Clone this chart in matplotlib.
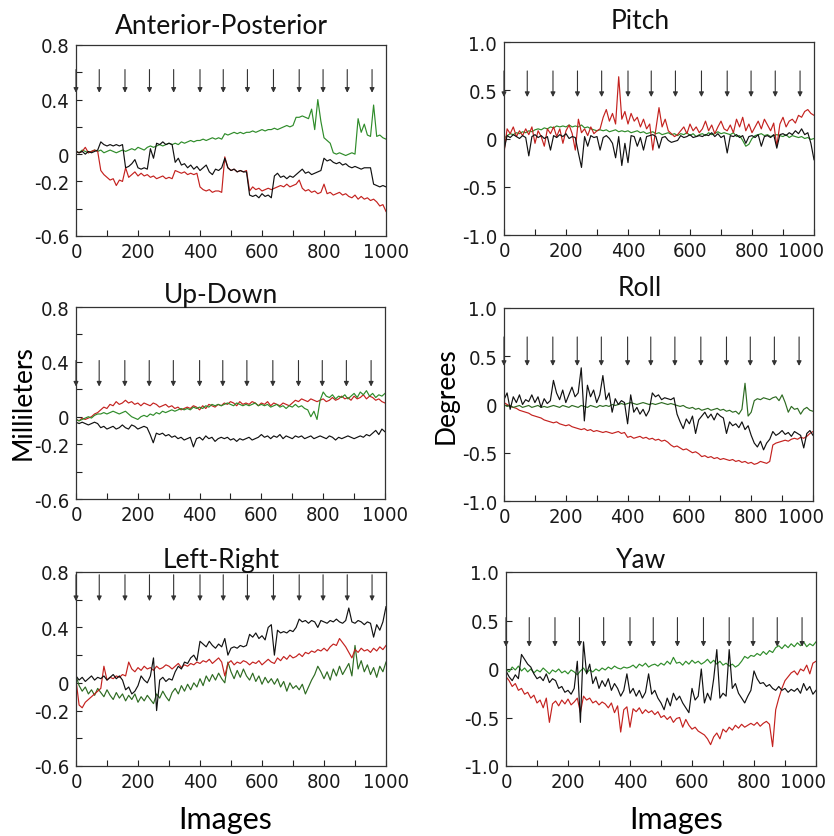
import numpy as np
import matplotlib
matplotlib.use("Agg")
import matplotlib.pyplot as plt
import matplotlib.transforms as mtransforms
from matplotlib import font_manager

# ---------------- data (x = image index, every 10 images) ----------------
images = np.arange(0, 1001, 10)
arrow_x = [0, 75, 158, 237, 315, 400, 475, 553, 637, 720, 797, 875, 955]

ap_g = [0.02, 0.01, 0.03, 0.02, 0.01, 0.02, 0.03, 0.02,
        0.03, 0.01, 0.02, 0.03, 0.02, 0.01, 0.02, 0.03,
        0.02, 0.03, 0.04, 0.03, 0.05, 0.04, 0.03, 0.05,
        0.06, 0.05, 0.06, 0.07, 0.06, 0.07, 0.08, 0.07,
        0.08, 0.07, 0.09, 0.08, 0.09, 0.10, 0.09, 0.10,
        0.10, 0.11, 0.10, 0.11, 0.12, 0.11, 0.12, 0.11,
        0.15, 0.14, 0.15, 0.16, 0.15, 0.16, 0.15, 0.16,
        0.16, 0.17, 0.16, 0.17, 0.18, 0.17, 0.18, 0.18,
        0.19, 0.18, 0.19, 0.20, 0.21, 0.20, 0.21, 0.27,
        0.27, 0.28, 0.27, 0.26, 0.33, 0.18, 0.40, 0.24,
        0.12, 0.10, 0.08, 0.01, 0.00, 0.01, 0.00, -0.01,
        0.00, 0.01, 0.00, 0.26, 0.16, 0.22, 0.14, 0.13,
        0.36, 0.13, 0.14, 0.12, 0.11]
ap_k = [0.02, 0.01, 0.02, 0.00, 0.02, 0.01, 0.02, 0.03,
        0.09, 0.07, 0.06, 0.07, 0.06, 0.07, 0.06, 0.07,
        -0.10, -0.09, -0.07, -0.04, -0.10, -0.11, -0.10, -0.11,
        0.04, -0.03, 0.08, 0.07, 0.09, 0.07, 0.08, 0.07,
        -0.06, -0.03, -0.08, -0.07, -0.10, -0.08, -0.11, -0.09,
        -0.12, -0.10, -0.08, -0.13, -0.15, -0.11, -0.12, -0.10,
        -0.03, -0.10, -0.12, -0.11, -0.13, -0.12, -0.13, -0.13,
        -0.30, -0.31, -0.30, -0.32, -0.29, -0.31, -0.30, -0.32,
        -0.16, -0.14, -0.17, -0.16, -0.18, -0.16, -0.17, -0.15,
        -0.13, -0.11, -0.14, -0.13, -0.15, -0.14, -0.13, -0.12,
        -0.03, -0.05, -0.04, -0.06, -0.07, -0.06, -0.08, -0.07,
        -0.09, -0.10, -0.09, -0.10, -0.11, -0.10, -0.10, -0.10,
        -0.22, -0.23, -0.24, -0.23, -0.24]
ap_r = [0.02, 0.01, 0.02, 0.05, 0.01, 0.02, 0.03, 0.02,
        -0.12, -0.15, -0.17, -0.19, -0.18, -0.23, -0.19, -0.20,
        -0.10, -0.17, -0.15, -0.13, -0.16, -0.14, -0.16, -0.15,
        -0.17, -0.16, -0.18, -0.17, -0.16, -0.18, -0.17, -0.18,
        -0.12, -0.13, -0.14, -0.13, -0.15, -0.14, -0.15, -0.14,
        -0.24, -0.26, -0.27, -0.26, -0.28, -0.27, -0.27, -0.28,
        -0.02, -0.10, -0.12, -0.11, -0.13, -0.12, -0.13, -0.12,
        -0.27, -0.24, -0.26, -0.25, -0.27, -0.26, -0.25, -0.26,
        -0.25, -0.24, -0.23, -0.24, -0.22, -0.24, -0.23, -0.22,
        -0.19, -0.25, -0.27, -0.26, -0.28, -0.27, -0.29, -0.28,
        -0.22, -0.29, -0.28, -0.30, -0.29, -0.28, -0.30, -0.29,
        -0.31, -0.32, -0.30, -0.33, -0.31, -0.33, -0.32, -0.34,
        -0.33, -0.35, -0.38, -0.37, -0.42]

pitch_k = [-0.12, 0.03, 0.01, 0.04, 0.02, 0.00, 0.03, 0.01,
           -0.18, 0.02, 0.04, 0.01, 0.03, 0.00, 0.02, -0.12,
           0.03, 0.01, 0.04, 0.02, 0.05, 0.00, 0.02, 0.01,
           -0.15, -0.30, 0.02, -0.08, 0.03, 0.01, 0.02, -0.12,
           0.01, 0.03, 0.00, -0.05, -0.20, 0.02, -0.28, -0.05,
           -0.25, 0.03, 0.02, -0.08, 0.01, -0.12, 0.02, 0.03,
           0.04, 0.02, -0.10, 0.01, 0.02, -0.02, -0.04, -0.03,
           -0.02, 0.03, 0.01, 0.02, 0.04, 0.01, 0.02, 0.03,
           0.02, 0.04, 0.03, 0.06, 0.02, 0.05, 0.01, 0.03,
           -0.15, 0.03, 0.02, 0.04, 0.01, 0.03, -0.05, 0.02,
           0.03, 0.01, 0.04, -0.08, 0.02, 0.03, 0.01, 0.04,
           -0.10, 0.04, 0.05, 0.03, 0.06, 0.04, 0.08, 0.05,
           0.10, 0.04, 0.06, -0.05, -0.22]
pitch_r = [-0.15, 0.10, 0.05, 0.12, 0.02, 0.08, 0.03, 0.10,
           0.04, 0.12, -0.05, 0.08, 0.02, -0.08, 0.10, 0.05,
           0.12, 0.02, 0.10, -0.05, 0.08, 0.14, 0.05, -0.12,
           0.20, 0.06, 0.10, 0.03, 0.12, 0.05, 0.08, 0.10,
           0.22, 0.30, 0.18, 0.26, 0.15, 0.64, 0.20, 0.28,
           0.15, 0.26, 0.18, 0.22, 0.12, 0.20, 0.10, 0.15,
           -0.12, 0.10, 0.32, 0.12, 0.20, 0.08, 0.05, 0.02,
           0.04, 0.08, 0.12, 0.05, 0.15, 0.08, 0.12, 0.06,
           0.10, 0.18, 0.08, 0.14, 0.05, 0.12, 0.18, 0.10,
           0.08, 0.14, 0.06, 0.20, 0.12, 0.22, 0.08, 0.15,
           0.06, 0.12, 0.18, 0.10, 0.20, 0.14, 0.08, 0.16,
           -0.08, 0.15, 0.22, 0.12, 0.18, 0.20, 0.16, 0.24,
           0.22, 0.28, 0.30, 0.26, 0.24]
pitch_g = [0.00, 0.03, 0.05, 0.04, 0.06, 0.05, 0.07, 0.06,
           0.08, 0.07, 0.09, 0.10, 0.09, 0.11, 0.10, 0.12,
           0.11, 0.13, 0.12, 0.13, 0.12, 0.14, 0.12, 0.13,
           0.12, 0.14, 0.11, 0.12, 0.10, 0.09, 0.08, 0.09,
           0.08, 0.09, 0.07, 0.08, 0.09, 0.07, 0.08, 0.07,
           0.08, 0.06, 0.07, 0.08, 0.06, 0.07, 0.05, 0.06,
           0.07, 0.05, 0.06, 0.04, 0.05, 0.06, 0.04, 0.05,
           0.03, 0.05, 0.04, 0.06, 0.03, 0.05, 0.02, 0.04,
           0.05, 0.03, 0.06, 0.04, 0.05, 0.07, 0.05, 0.06,
           0.05, 0.04, 0.06, 0.02, 0.03, -0.02, -0.08, -0.06,
           0.00, 0.03, 0.04, 0.05, 0.03, 0.04, 0.02, 0.03,
           0.04, 0.03, 0.02, 0.04, 0.01, 0.03, 0.02, 0.01,
           0.02, 0.00, 0.01, -0.01, 0.00]

ud_r = [-0.02, -0.03, -0.01, -0.02, -0.01, 0.00, 0.02, 0.03,
        0.05, 0.07, 0.06, 0.09, 0.08, 0.11, 0.09, 0.10,
        0.12, 0.10, 0.11, 0.09, 0.10, 0.08, 0.10, 0.09,
        0.08, 0.10, 0.09, 0.07, 0.08, 0.09, 0.07, 0.08,
        0.06, 0.07, 0.05, 0.06, 0.07, 0.06, 0.08, 0.07,
        0.05, 0.08, 0.06, 0.09, 0.08, 0.07, 0.09, 0.08,
        0.10, 0.09, 0.11, 0.10, 0.08, 0.11, 0.09, 0.10,
        0.09, 0.11, 0.10, 0.08, 0.10, 0.09, 0.11, 0.08,
        0.10, 0.09, 0.08, 0.10, 0.09, 0.08, 0.10, 0.12,
        0.11, 0.13, 0.12, 0.11, 0.13, 0.12, 0.11, 0.12,
        0.13, 0.11, 0.12, 0.14, 0.12, 0.13, 0.15, 0.13,
        0.14, 0.12, 0.15, 0.13, 0.14, 0.16, 0.13, 0.15,
        0.14, 0.12, 0.13, 0.11, 0.10]
ud_g = [-0.02, -0.03, -0.02, -0.01, 0.00, -0.01, 0.01, 0.02,
        0.02, 0.03, 0.02, 0.03, 0.04, 0.03, 0.02, 0.03,
        0.04, 0.02, 0.00, -0.01, -0.02, 0.00, 0.01, 0.00,
        0.02, 0.01, 0.03, 0.02, 0.04, 0.03, 0.04, 0.05,
        0.04, 0.05, 0.06, 0.05, 0.06, 0.05, 0.07, 0.06,
        0.07, 0.06, 0.08, 0.07, 0.09, 0.08, 0.09, 0.08,
        0.09, 0.10, 0.09, 0.08, 0.10, 0.09, 0.08, 0.09,
        0.08, 0.09, 0.10, 0.08, 0.09, 0.08, 0.09, 0.07,
        0.08, 0.09, 0.07, 0.08, 0.06, 0.08, 0.07, 0.09,
        0.07, 0.08, 0.06, 0.05, 0.00, 0.04, -0.02, 0.12,
        0.18, 0.15, 0.14, 0.16, 0.13, 0.15, 0.14, 0.16,
        0.13, 0.15, 0.17, 0.14, 0.18, 0.16, 0.19, 0.15,
        0.17, 0.14, 0.16, 0.15, 0.17]
ud_k = [-0.04, -0.05, -0.04, -0.05, -0.06, -0.05, -0.04, -0.05,
        -0.08, -0.07, -0.09, -0.08, -0.07, -0.09, -0.08, -0.06,
        -0.08, -0.09, -0.06, -0.07, -0.09, -0.08, -0.07, -0.08,
        -0.13, -0.19, -0.12, -0.13, -0.12, -0.14, -0.13, -0.15,
        -0.14, -0.16, -0.15, -0.17, -0.16, -0.15, -0.22, -0.16,
        -0.15, -0.17, -0.14, -0.16, -0.15, -0.18, -0.16, -0.15,
        -0.16, -0.15, -0.17, -0.16, -0.18, -0.16, -0.17, -0.16,
        -0.15, -0.17, -0.16, -0.15, -0.13, -0.15, -0.14, -0.16,
        -0.14, -0.15, -0.13, -0.16, -0.14, -0.15, -0.16, -0.14,
        -0.15, -0.14, -0.16, -0.15, -0.14, -0.16, -0.15, -0.14,
        -0.15, -0.16, -0.14, -0.15, -0.17, -0.15, -0.16, -0.15,
        -0.14, -0.15, -0.16, -0.15, -0.14, -0.15, -0.13, -0.14,
        -0.12, -0.10, -0.13, -0.09, -0.11]

roll_r = [0.02, 0.00, -0.02, -0.03, -0.04, -0.06, -0.07, -0.08,
          -0.09, -0.11, -0.12, -0.13, -0.14, -0.16, -0.17, -0.18,
          -0.19, -0.18, -0.20, -0.21, -0.22, -0.21, -0.23, -0.24,
          -0.25, -0.26, -0.25, -0.27, -0.26, -0.28, -0.27, -0.28,
          -0.29, -0.28, -0.29, -0.30, -0.29, -0.28, -0.30, -0.29,
          -0.34, -0.33, -0.35, -0.34, -0.33, -0.35, -0.34, -0.36,
          -0.35, -0.37, -0.36, -0.38, -0.37, -0.39, -0.42, -0.44,
          -0.43, -0.45, -0.47, -0.46, -0.48, -0.50, -0.49, -0.51,
          -0.54, -0.53, -0.55, -0.54, -0.56, -0.55, -0.57, -0.56,
          -0.57, -0.58, -0.57, -0.59, -0.58, -0.60, -0.59, -0.61,
          -0.60, -0.62, -0.61, -0.59, -0.60, -0.61, -0.59, -0.42,
          -0.40, -0.39, -0.38, -0.37, -0.38, -0.36, -0.35, -0.36,
          -0.34, -0.35, -0.33, -0.30, -0.28]
roll_k = [0.05, 0.12, -0.05, 0.08, 0.02, 0.10, 0.00, 0.05,
          0.03, 0.10, 0.02, 0.08, -0.03, 0.06, 0.01, 0.04,
          0.25, 0.12, 0.05, 0.15, 0.02, 0.10, 0.18, 0.08,
          0.12, 0.38, -0.17, 0.20, 0.08, 0.15, 0.02, 0.10,
          0.30, 0.05, 0.12, -0.08, 0.06, 0.00, 0.04, 0.02,
          -0.20, 0.10, -0.08, -0.03, -0.10, -0.05, -0.12, -0.06,
          0.12, 0.08, 0.10, 0.05, 0.07, 0.06, 0.05, 0.07,
          -0.10, -0.18, -0.25, -0.15, -0.20, -0.12, -0.30, -0.16,
          -0.12, -0.08, -0.14, -0.10, -0.16, -0.09, -0.12, -0.14,
          -0.30, -0.18, -0.22, -0.20, -0.24, -0.18, -0.26, -0.22,
          -0.32, -0.40, -0.44, -0.38, -0.47, -0.40, -0.36, -0.28,
          -0.32, -0.30, -0.27, -0.31, -0.29, -0.33, -0.28, -0.30,
          -0.32, -0.45, -0.30, -0.27, -0.32]
roll_g = [0.00, -0.02, -0.01, -0.03, -0.02, -0.01, -0.03, -0.02,
          -0.01, -0.03, -0.02, -0.01, -0.03, -0.02, -0.03, -0.02,
          -0.01, -0.02, -0.03, -0.01, -0.02, -0.03, -0.01, -0.02,
          -0.03, -0.01, -0.02, -0.03, -0.01, -0.02, -0.03, -0.01,
          -0.02, -0.01, -0.02, 0.00, -0.01, 0.00, 0.01, 0.00,
          0.01, 0.02, 0.01, 0.00, 0.01, 0.02, 0.01, 0.00,
          0.01, 0.00, 0.01, 0.02, 0.01, 0.00, 0.01, 0.00,
          -0.01, -0.02, -0.01, -0.03, -0.04, -0.03, -0.05, -0.04,
          -0.06, -0.05, -0.04, -0.06, -0.05, -0.04, -0.06, -0.05,
          -0.07, -0.06, -0.08, -0.07, -0.10, -0.05, 0.22, -0.12,
          -0.08, 0.04, 0.06, 0.05, 0.07, 0.06, 0.05, 0.07,
          0.08, 0.04, 0.10, 0.02, -0.08, -0.02, -0.05, -0.04,
          -0.10, -0.05, -0.03, -0.06, -0.07]

lr_k = [0.05, 0.02, 0.04, 0.01, 0.03, 0.05, 0.02, 0.04,
        0.03, 0.05, 0.02, 0.04, 0.06, 0.03, 0.05, 0.02,
        -0.05, -0.03, -0.08, -0.06, -0.02, 0.05, 0.02, 0.00,
        0.05, 0.18, -0.20, 0.02, 0.04, 0.01, 0.03, 0.02,
        0.08, 0.12, 0.10, 0.15, 0.14, 0.18, 0.20, 0.16,
        0.30, 0.28, 0.26, 0.30, 0.27, 0.25, 0.28, 0.26,
        0.32, 0.20, 0.25, 0.26, 0.25, 0.27, 0.26, 0.27,
        0.35, 0.33, 0.36, 0.32, 0.34, 0.31, 0.40, 0.42,
        0.20, 0.38, 0.36, 0.37, 0.36, 0.38, 0.37, 0.40,
        0.46, 0.44, 0.45, 0.43, 0.45, 0.44, 0.40, 0.45,
        0.44, 0.43, 0.45, 0.44, 0.46, 0.44, 0.43, 0.45,
        0.54, 0.44, 0.43, 0.45, 0.44, 0.42, 0.44, 0.43,
        0.33, 0.42, 0.38, 0.44, 0.55]
lr_r = [0.02, -0.16, -0.18, -0.14, -0.12, -0.10, -0.08, -0.06,
        -0.04, 0.12, 0.02, 0.04, 0.03, 0.05, 0.04, 0.06,
        0.05, 0.15, 0.10, 0.08, 0.11, 0.09, 0.12, 0.10,
        0.11, 0.09, 0.12, 0.10, 0.11, 0.13, 0.12, 0.10,
        0.12, 0.14, 0.11, 0.13, 0.12, 0.14, 0.13, 0.15,
        0.14, 0.16, 0.15, 0.17, 0.14, 0.16, 0.18, 0.15,
        0.05, 0.14, 0.16, 0.13, 0.15, 0.14, 0.16, 0.15,
        0.13, 0.15, 0.14, 0.16, 0.13, 0.15, 0.17, 0.15,
        0.14, 0.18, 0.16, 0.19, 0.17, 0.20, 0.18, 0.19,
        0.21, 0.19, 0.22, 0.21, 0.23, 0.22, 0.24, 0.23,
        0.25, 0.23, 0.26, 0.28, 0.27, 0.32, 0.29, 0.26,
        0.22, 0.18, 0.24, 0.22, 0.25, 0.23, 0.24, 0.22,
        0.25, 0.23, 0.26, 0.24, 0.27]
lr_g = [0.05, -0.02, -0.06, -0.03, -0.08, -0.05, -0.09, -0.04,
        -0.07, -0.10, -0.05, -0.09, -0.12, -0.07, -0.11, -0.08,
        -0.13, -0.09, -0.12, -0.08, -0.14, -0.10, -0.13, -0.09,
        -0.12, -0.15, -0.08, -0.11, -0.06, -0.10, -0.13, -0.07,
        -0.04, -0.08, -0.02, -0.06, -0.01, -0.05, 0.00, -0.03,
        0.03, -0.02, 0.05, 0.01, 0.06, 0.02, 0.07, 0.03,
        0.00, 0.15, 0.08, 0.03, 0.09, 0.04, 0.10, 0.05,
        0.02, 0.07, 0.01, 0.05, -0.01, 0.04, 0.00, 0.03,
        -0.01, 0.03, -0.03, 0.01, -0.06, 0.00, -0.04, -0.02,
        -0.05, -0.01, -0.08, -0.03, 0.02, 0.06, 0.12, 0.08,
        0.03, 0.08, 0.02, 0.10, 0.05, 0.12, 0.06, 0.10,
        0.14, 0.05, 0.27, 0.10, 0.16, 0.08, 0.13, 0.06,
        0.11, 0.04, 0.12, 0.08, 0.15]

yaw_g = [0.00, -0.03, 0.02, -0.01, 0.03, -0.02, 0.01, -0.03,
         0.00, -0.04, -0.01, -0.03, 0.01, -0.02, -0.05, -0.01,
         -0.03, 0.00, -0.04, -0.02, -0.05, -0.01, -0.03, -0.06,
         -0.02, 0.01, -0.04, -0.01, -0.03, 0.00, -0.02, 0.01,
         -0.01, 0.02, 0.00, 0.03, 0.01, 0.00, 0.02, 0.01,
         0.02, 0.04, 0.01, 0.05, 0.03, 0.06, 0.02, 0.04,
         0.05, 0.03, 0.06, 0.04, 0.08, 0.05, 0.12, 0.06,
         0.07, 0.04, 0.08, 0.05, 0.09, 0.06, 0.08, 0.05,
         0.07, 0.10, 0.06, 0.09, 0.05, 0.08, 0.04, 0.06,
         0.03, 0.05, 0.02, 0.04, 0.08, 0.13, 0.11, 0.14,
         0.13, 0.16, 0.14, 0.18, 0.15, 0.19, 0.17, 0.22,
         0.24, 0.21, 0.25, 0.22, 0.26, 0.23, 0.27, 0.24,
         0.28, 0.23, 0.26, 0.24, 0.28]
yaw_r = [-0.08, -0.12, -0.18, -0.15, -0.22, -0.20, -0.26, -0.24,
         -0.30, -0.27, -0.35, -0.32, -0.40, -0.30, -0.55, -0.36,
         -0.33, -0.38, -0.32, -0.36, -0.31, -0.37, -0.34, -0.30,
         -0.45, -0.28, -0.32, -0.30, -0.35, -0.33, -0.37, -0.34,
         -0.36, -0.40, -0.35, -0.45, -0.38, -0.65, -0.42, -0.39,
         -0.60, -0.41, -0.44, -0.40, -0.46, -0.42, -0.45, -0.43,
         -0.47, -0.44, -0.50, -0.48, -0.52, -0.49, -0.55, -0.51,
         -0.50, -0.60, -0.52, -0.58, -0.62, -0.60, -0.64, -0.66,
         -0.68, -0.72, -0.78, -0.70, -0.66, -0.72, -0.62, -0.65,
         -0.60, -0.63, -0.58, -0.61, -0.57, -0.60, -0.58, -0.56,
         -0.58, -0.55, -0.59, -0.56, -0.54, -0.57, -0.80, -0.42,
         -0.30, -0.20, -0.12, -0.08, -0.04, -0.02, -0.06, 0.00,
         -0.02, 0.04, -0.05, 0.06, 0.08]
yaw_k = [-0.02, -0.08, -0.12, -0.06, -0.10, 0.15, 0.10, 0.05,
         0.02, -0.05, -0.10, -0.08, -0.12, -0.05, -0.14, -0.10,
         -0.12, -0.20, -0.18, -0.24, -0.22, -0.26, -0.20, 0.08,
         -0.55, 0.28, -0.05, 0.05, -0.15, -0.08, -0.20, -0.12,
         -0.18, -0.10, -0.22, -0.15, -0.20, -0.28, -0.22, -0.05,
         -0.25, -0.20, -0.28, -0.22, -0.30, -0.24, -0.05, -0.26,
         -0.22, -0.30, -0.35, -0.42, -0.30, -0.38, -0.25, -0.32,
         -0.28, -0.35, -0.40, -0.45, -0.20, -0.32, -0.28, 0.00,
         -0.35, -0.25, -0.32, -0.10, 0.20, -0.30, -0.25, -0.28,
         0.20, -0.20, -0.15, -0.25, -0.30, -0.35, -0.28, -0.22,
         -0.02, -0.10, -0.15, -0.14, -0.18, -0.16, -0.20, -0.22,
         -0.18, -0.22, -0.20, -0.24, -0.21, -0.23, -0.20, -0.25,
         -0.15, -0.22, -0.18, -0.26, -0.22]

titles = ["Anterior-Posterior", "Pitch", "Up-Down", "Roll", "Left-Right", "Yaw"]
mm_ticks = [-0.6, -0.4, -0.2, 0, 0.2, 0.4, 0.6, 0.8]
mm_labels = ["-0.6", "", "-0.2", "0", "", "0.4", "", "0.8"]
deg_ticks = [-1.0, -0.5, 0, 0.5, 1.0]
deg_labels = ["-1.0", "-0.5", "0", "0.5", "1.0"]
x_ticks = list(range(0, 1001, 100))
x_labels = ["0", "", "200", "", "400", "", "600", "", "800", "", "1000"]

# ---------------- fonts ----------------
tick_fp = None
for f in font_manager.fontManager.ttflist:
    if f.name == "Liberation Sans Narrow" and f.style == "normal" and f.weight in (400, "normal", "regular"):
        tick_fp = font_manager.FontProperties(fname=f.fname)
        break
if tick_fp is None:
    for f in font_manager.fontManager.ttflist:
        if f.name == "DejaVu Sans" and f.stretch == "condensed" and f.style == "normal" \
                and f.weight in (400, "normal", "regular", "book"):
            tick_fp = font_manager.FontProperties(fname=f.fname)
            break
if tick_fp is None:
    tick_fp = font_manager.FontProperties(family="Liberation Sans")
tick_fp.set_size(14.5)

avail = {f.name for f in font_manager.fontManager.ttflist}
title_font = "Lato" if "Lato" in avail else "DejaVu Sans"

RED = "#c4221f"
GREEN = "#2f8c2a"
DKGREEN = "#2e6b22"
BLACK = "#111111"

W, H = 834, 837
fig = plt.figure(figsize=(W / 100, H / 100), dpi=100)

def ax_at(l, t, r, b):
    return fig.add_axes([l / W, 1 - b / H, (r - l) / W, (b - t) / H])

panels = [
    dict(box=(76, 46, 386, 237), title_pad=9, tx=0.47, kind="mm", right=False,
         series=[(ap_g, GREEN), (ap_r, RED), (ap_k, BLACK)], arrow=(0.62, 0.45)),
    dict(box=(504, 43, 814, 236), title_pad=10, tx=0.44, kind="deg", right=True,
         series=[(pitch_g, GREEN), (pitch_r, RED), (pitch_k, BLACK)], arrow=(0.70, 0.43)),
    dict(box=(76, 308, 385, 500), title_pad=2, tx=0.47, kind="mm", right=False,
         series=[(ud_r, RED), (ud_g, GREEN), (ud_k, BLACK)], arrow=(0.41, 0.22)),
    dict(box=(504, 309, 813, 502), title_pad=9, tx=0.44, kind="deg", right=True,
         series=[(roll_r, RED), (roll_g, DKGREEN), (roll_k, BLACK)], arrow=(0.70, 0.40)),
    dict(box=(76, 573, 386, 767), title_pad=2, tx=0.468, kind="mm", right=False,
         series=[(lr_g, DKGREEN), (lr_r, RED), (lr_k, BLACK)], arrow=(0.78, 0.59)),
    dict(box=(506, 573, 816, 767), title_pad=3, tx=0.435, kind="deg", right=True,
         series=[(yaw_g, GREEN), (yaw_r, RED), (yaw_k, BLACK)], arrow=(0.53, 0.23)),
]

for i, p in enumerate(panels):
    ax = ax_at(*p["box"])
    for ys, c in p["series"]:
        ax.plot(images, ys, color=c, lw=0.85)
    ax.set_xlim(0, 1000)
    if p["kind"] == "mm":
        ax.set_ylim(-0.6, 0.8)
        ax.set_yticks(mm_ticks)
        ax.set_yticklabels(mm_labels)
    else:
        ax.set_ylim(-1.0, 1.0)
        ax.set_yticks(deg_ticks)
        ax.set_yticklabels(deg_labels)
    ax.set_xticks(x_ticks)
    ax.set_xticklabels(x_labels)
    ax.tick_params(direction="in", length=4, width=0.8, colors="#222222")
    ax.tick_params(axis="x", pad=4)
    ax.tick_params(axis="y", pad=5)
    for lab in ax.get_xticklabels() + ax.get_yticklabels():
        lab.set_fontproperties(tick_fp)
        lab.set_color("#1a1a1a")
    if p["right"]:
        last = ax.get_xticklabels()[-1]
        last.set_transform(last.get_transform() +
                           mtransforms.ScaledTranslation(-9 / 72, 0, fig.dpi_scale_trans))
    for s in ax.spines.values():
        s.set_linewidth(0.9)
        s.set_color("#333333")
    top, tip = p["arrow"]
    for ax_x in arrow_x:
        ax.annotate("", xy=(ax_x, tip), xytext=(ax_x, top),
                    arrowprops=dict(arrowstyle="-|>", color="#333333", lw=0.8,
                                    mutation_scale=7, shrinkA=0, shrinkB=0))
    ax.set_title(titles[i], fontsize=19, fontfamily=title_font, pad=p["title_pad"],
                 x=p["tx"], color="#111111")

fig.text(23 / W, 1 - 403 / H, "Millileters", rotation=90, ha="center", va="center",
         fontsize=19, fontfamily=title_font)
fig.text(446 / W, 1 - 396 / H, "Degrees", rotation=90, ha="center", va="center",
         fontsize=19, fontfamily=title_font)
fig.text(225 / W, 1 - 820 / H, "Images", ha="center", va="center",
         fontsize=22, fontfamily=title_font)
fig.text(676 / W, 1 - 820 / H, "Images", ha="center", va="center",
         fontsize=22, fontfamily=title_font)

fig.savefig("out.png", dpi=100)
